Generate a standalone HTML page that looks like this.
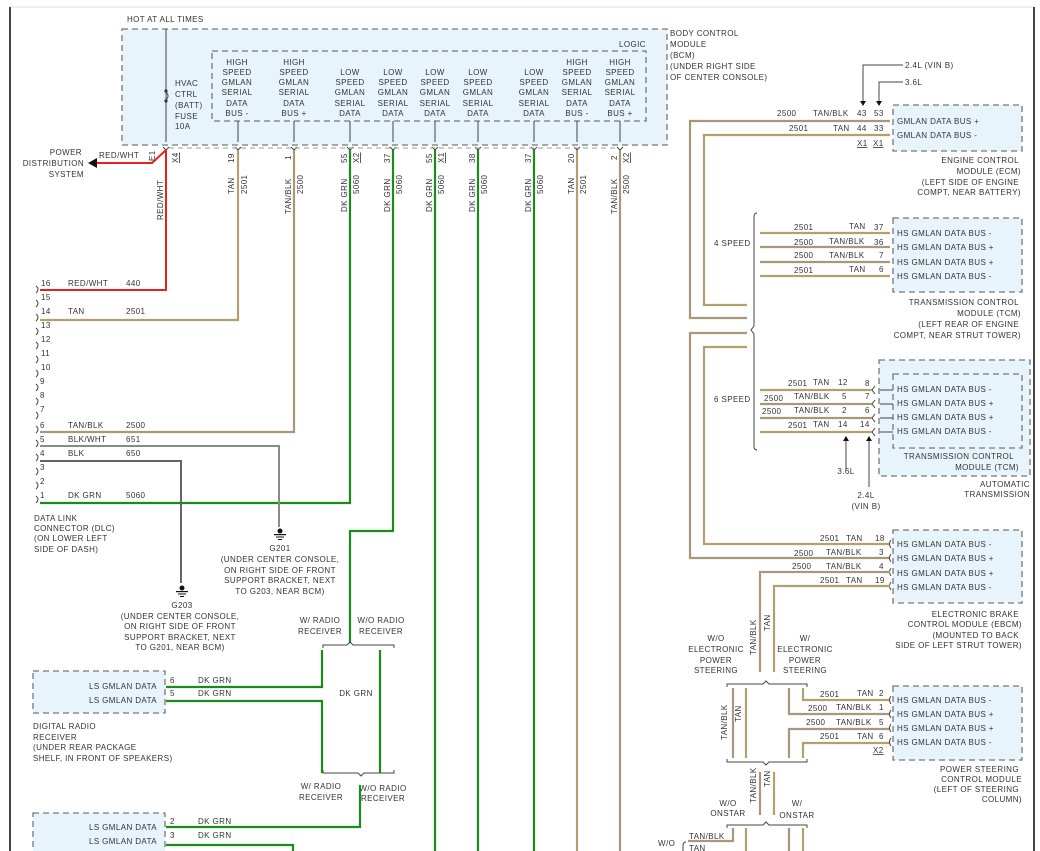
<!DOCTYPE html>
<html><head><meta charset="utf-8"><style>
html,body{margin:0;padding:0;background:#fff;width:1040px;height:851px;overflow:hidden}
svg{display:block}
text{font-family:"Liberation Sans",sans-serif;font-size:8px;fill:#333;letter-spacing:0.4px}
.t{stroke:#b3a06e;stroke-width:2.2;fill:none}
.tb{stroke:#a8987a;stroke-width:2.2;fill:none}
.g{stroke:#1a8c1a;stroke-width:2.2;fill:none}
.r{stroke:#e82020;stroke-width:2;fill:none}
.gy{stroke:#8a8a8a;stroke-width:2;fill:none}
.dg{stroke:#666;stroke-width:2;fill:none}
.bx{fill:#e8f4fb;stroke:#777;stroke-width:1.3;stroke-dasharray:6,4}
.ib{fill:none;stroke:#777;stroke-width:1.3;stroke-dasharray:6,4}
.k{stroke:#444;stroke-width:1;fill:none}
.m{text-anchor:middle}
.e{text-anchor:end}
</style></head><body>
<svg width="1040" height="851" viewBox="0 0 1040 851" xmlns="http://www.w3.org/2000/svg">
<rect width="1040" height="851" fill="#fff"/>
<line x1="10" y1="7" x2="1034" y2="7" stroke="#ddd" stroke-width="1"/>
<line x1="10" y1="7" x2="10" y2="851" stroke="#444" stroke-width="2"/>
<line x1="1034" y1="7" x2="1034" y2="851" stroke="#444" stroke-width="2"/>

<!-- BCM -->
<text x="127" y="22">HOT AT ALL TIMES</text>
<rect class="bx" x="122" y="29" width="545" height="116"/>
<rect class="ib" x="212" y="51" width="434" height="70"/>
<text x="619" y="47">LOGIC</text>
<g>
<text x="670" y="36">BODY CONTROL</text><text x="670" y="47">MODULE</text><text x="670" y="58">(BCM)</text><text x="670" y="69">(UNDER RIGHT SIDE</text><text x="670" y="80">OF CENTER CONSOLE)</text>
</g>
<line class="k" x1="166" y1="29" x2="166" y2="142"/>
<path d="M166 92 q4 4 0 8" class="k"/><circle cx="166" cy="91" r="1.6" fill="#333"/><circle cx="166" cy="101" r="1.6" fill="#333"/>
<text x="175" y="86">HVAC</text><text x="175" y="97">CTRL</text><text x="175" y="108">(BATT)</text><text x="175" y="119">FUSE</text><text x="175" y="129">10A</text>
<g class="m">
<text x="237" y="65">HIGH</text><text x="237" y="75">SPEED</text><text x="237" y="85">GMLAN</text><text x="237" y="95">SERIAL</text><text x="237" y="106">DATA</text><text x="237" y="116">BUS -</text>
<text x="294" y="65">HIGH</text><text x="294" y="75">SPEED</text><text x="294" y="85">GMLAN</text><text x="294" y="95">SERIAL</text><text x="294" y="106">DATA</text><text x="294" y="116">BUS +</text>
<text x="350" y="75">LOW</text><text x="350" y="85">SPEED</text><text x="350" y="95">GMLAN</text><text x="350" y="106">SERIAL</text><text x="350" y="116">DATA</text>
<text x="393" y="75">LOW</text><text x="393" y="85">SPEED</text><text x="393" y="95">GMLAN</text><text x="393" y="106">SERIAL</text><text x="393" y="116">DATA</text>
<text x="435" y="75">LOW</text><text x="435" y="85">SPEED</text><text x="435" y="95">GMLAN</text><text x="435" y="106">SERIAL</text><text x="435" y="116">DATA</text>
<text x="478" y="75">LOW</text><text x="478" y="85">SPEED</text><text x="478" y="95">GMLAN</text><text x="478" y="106">SERIAL</text><text x="478" y="116">DATA</text>
<text x="534" y="75">LOW</text><text x="534" y="85">SPEED</text><text x="534" y="95">GMLAN</text><text x="534" y="106">SERIAL</text><text x="534" y="116">DATA</text>
<text x="577" y="65">HIGH</text><text x="577" y="75">SPEED</text><text x="577" y="85">GMLAN</text><text x="577" y="95">SERIAL</text><text x="577" y="106">DATA</text><text x="577" y="116">BUS -</text>
<text x="620" y="65">HIGH</text><text x="620" y="75">SPEED</text><text x="620" y="85">GMLAN</text><text x="620" y="95">SERIAL</text><text x="620" y="106">DATA</text><text x="620" y="116">BUS +</text>
</g>
<g class="k">
<path d="M238 121V142M294 121V142M350 121V142M393 121V142M435 121V142M478 121V142M534 121V142M577 121V142M620 121V142"/>
<path d="M163 147l3 3 3-3M235 147l3 3 3-3M291 147l3 3 3-3M347 147l3 3 3-3M390 147l3 3 3-3M432 147l3 3 3-3M475 147l3 3 3-3M531 147l3 3 3-3M574 147l3 3 3-3M617 147l3 3 3-3"/>
</g>
<line x1="169" y1="148" x2="617" y2="148" stroke="#999" stroke-dasharray="5,4"/>
<g>
<text transform="translate(234,163) rotate(-90)">19</text><text transform="translate(234,194) rotate(-90)">TAN</text><text transform="translate(247,194) rotate(-90)">2501</text>
<text transform="translate(291,160) rotate(-90)">1</text><text transform="translate(291,214) rotate(-90)">TAN/BLK</text><text transform="translate(303,194) rotate(-90)">2500</text>
<text transform="translate(347,163) rotate(-90)">55</text><text transform="translate(359,163) rotate(-90)" text-decoration="underline">X2</text><text transform="translate(347,212) rotate(-90)">DK GRN</text><text transform="translate(359,194) rotate(-90)">5060</text>
<text transform="translate(390,163) rotate(-90)">37</text><text transform="translate(390,212) rotate(-90)">DK GRN</text><text transform="translate(402,194) rotate(-90)">5060</text>
<text transform="translate(432,163) rotate(-90)">55</text><text transform="translate(444,163) rotate(-90)" text-decoration="underline">X1</text><text transform="translate(432,212) rotate(-90)">DK GRN</text><text transform="translate(444,194) rotate(-90)">5060</text>
<text transform="translate(475,163) rotate(-90)">38</text><text transform="translate(475,212) rotate(-90)">DK GRN</text><text transform="translate(487,194) rotate(-90)">5060</text>
<text transform="translate(531,163) rotate(-90)">37</text><text transform="translate(531,212) rotate(-90)">DK GRN</text><text transform="translate(543,194) rotate(-90)">5060</text>
<text transform="translate(574,163) rotate(-90)">20</text><text transform="translate(574,194) rotate(-90)">TAN</text><text transform="translate(586,194) rotate(-90)">2501</text>
<text transform="translate(617,160) rotate(-90)">2</text><text transform="translate(629,163) rotate(-90)" text-decoration="underline">X2</text><text transform="translate(617,214) rotate(-90)">TAN/BLK</text><text transform="translate(629,194) rotate(-90)">2500</text>
<text transform="translate(155,161) rotate(-90)">E1</text><text transform="translate(178,163) rotate(-90)" text-decoration="underline">X4</text>
<text transform="translate(163,220) rotate(-90)">RED/WHT</text>
</g>
<path class="r" d="M166 150V290H40M166 150L152 163H96"/>
<path d="M88 163l9-5v10z" fill="#111"/>
<text x="99" y="158">RED/WHT</text>
<g class="e"><text x="82" y="155">POWER</text><text x="84" y="166">DISTRIBUTION</text><text x="84" y="177">SYSTEM</text></g>

<path class="t" d="M238 150V320H40"/>
<path class="tb" d="M294 150V432H40"/>
<path class="g" d="M350 150V503H40"/>
<path class="g" d="M393 150V531H350V643"/>
<path class="g" d="M435 150V851M478 150V851M534 150V851"/>
<path class="t" d="M577 150V851"/>
<path class="tb" d="M620 150V851"/>
<path class="gy" d="M40 446H279V527"/>
<path class="dg" d="M40 461H181V583"/>

<g>
<text x="41" y="286">16</text><text x="68" y="286">RED/WHT</text><text x="126" y="286">440</text>
<text x="41" y="300">15</text>
<text x="41" y="314">14</text><text x="68" y="314">TAN</text><text x="126" y="314">2501</text>
<text x="41" y="328">13</text><text x="41" y="342">12</text><text x="41" y="356">11</text><text x="41" y="370">10</text>
<text x="40" y="384">9</text><text x="40" y="398">8</text><text x="40" y="412">7</text>
<text x="40" y="428">6</text><text x="68" y="428">TAN/BLK</text><text x="126" y="428">2500</text>
<text x="40" y="442">5</text><text x="68" y="442">BLK/WHT</text><text x="126" y="442">651</text>
<text x="40" y="456">4</text><text x="68" y="456">BLK</text><text x="126" y="456">650</text>
<text x="40" y="470">3</text><text x="40" y="484">2</text>
<text x="40" y="498">1</text><text x="68" y="498">DK GRN</text><text x="126" y="498">5060</text>
</g>
<path class="k" d="M36 286q4 3 0 7M36 300q4 3 0 7M36 314q4 3 0 7M36 328q4 3 0 7M36 342q4 3 0 7M36 356q4 3 0 7M36 370q4 3 0 7M36 384q4 3 0 7M36 398q4 3 0 7M36 412q4 3 0 7M36 426q4 3 0 7M36 440q4 3 0 7M36 454q4 3 0 7M36 468q4 3 0 7M36 482q4 3 0 7M36 496q4 3 0 7"/>
<text x="34" y="521">DATA LINK</text><text x="34" y="531">CONNECTOR (DLC)</text><text x="34" y="541">(ON LOWER LEFT</text><text x="34" y="552">SIDE OF DASH)</text>
<g fill="#111"><circle cx="280" cy="531" r="2.5"/><rect x="274" y="534" width="12" height="1.2"/><rect x="276" y="536.5" width="8" height="1"/><rect x="278" y="539" width="4" height="1"/></g>
<g fill="#111"><circle cx="182" cy="588" r="2.5"/><rect x="176" y="591" width="12" height="1.2"/><rect x="178" y="593.5" width="8" height="1"/><rect x="180" y="596" width="4" height="1"/></g>
<g class="m">
<text x="280" y="551">G201</text><text x="280" y="562">(UNDER CENTER CONSOLE,</text><text x="280" y="573">ON RIGHT SIDE OF FRONT</text><text x="280" y="583">SUPPORT BRACKET, NEXT</text><text x="280" y="594">TO G203, NEAR BCM)</text>
<text x="182" y="608">G203</text><text x="180" y="619">(UNDER CENTER CONSOLE,</text><text x="180" y="629">ON RIGHT SIDE OF FRONT</text><text x="180" y="640">SUPPORT BRACKET, NEXT</text><text x="180" y="650">TO G201, NEAR BCM)</text>
</g>
<g class="m"><text x="320" y="623">W/ RADIO</text><text x="320" y="634">RECEIVER</text><text x="381" y="623">W/O RADIO</text><text x="381" y="634">RECEIVER</text>
<text x="321" y="789">W/ RADIO</text><text x="321" y="800">RECEIVER</text><text x="383" y="791">W/O RADIO</text><text x="383" y="801">RECEIVER</text>
<text x="356" y="696">DK GRN</text></g>
<path class="k" d="M323 648v-3h24l3-3 3 3h41v3M323 770v3h35l3 3 3-3h30v-3"/>
<path class="g" d="M322 650V687H166M380 650V773M166 701H322V773M360 785V827H166M166 845H293V851"/>
<rect class="bx" x="33" y="671" width="132" height="42"/>
<text class="e" x="157" y="689">LS GMLAN DATA</text><text class="e" x="157" y="703">LS GMLAN DATA</text>
<text x="170" y="683">6</text><text x="198" y="683">DK GRN</text><text x="170" y="696">5</text><text x="198" y="696">DK GRN</text>
<text x="33" y="729">DIGITAL RADIO</text><text x="33" y="740">RECEIVER</text><text x="33" y="750">(UNDER REAR PACKAGE</text><text x="33" y="761">SHELF, IN FRONT OF SPEAKERS)</text>
<rect class="bx" x="33" y="813" width="132" height="45"/>
<text class="e" x="157" y="830">LS GMLAN DATA</text><text class="e" x="157" y="844">LS GMLAN DATA</text>
<text x="170" y="824">2</text><text x="198" y="824">DK GRN</text><text x="170" y="838">3</text><text x="198" y="838">DK GRN</text>

<text x="905" y="68">2.4L (VIN B)</text><text x="905" y="85">3.6L</text>
<path class="k" d="M903 65H863V103M903 82H879V103"/>
<path d="M860 101h6l-3 5zM876 101h6l-3 5z" fill="#111"/>
<rect class="bx" x="893" y="105" width="129" height="46"/>
<text x="897" y="124">GMLAN DATA BUS +</text><text x="897" y="138">GMLAN DATA BUS -</text>
<text x="777" y="116">2500</text><text x="813" y="116">TAN/BLK</text><text x="857" y="116">43</text><text x="874" y="116">53</text>
<text x="789" y="131">2501</text><text x="833" y="131">TAN</text><text x="857" y="131">44</text><text x="874" y="131">33</text>
<text x="857" y="146" text-decoration="underline">X1</text><text x="873" y="146" text-decoration="underline">X1</text>
<g class="e"><text x="1019" y="163">ENGINE CONTROL</text><text x="1021" y="174">MODULE (ECM)</text><text x="1019" y="185">(LEFT SIDE OF ENGINE</text><text x="1021" y="195">COMPT, NEAR BATTERY)</text></g>
<path class="tb" d="M890 121H690V318H747M747 333H690V558H890"/>
<path class="t" d="M890 135H704V305H747M747 347H704V544H890"/>
<path class="k" d="M757 213q-3 0-3 4V326l-3 4 3 4V446q0 4 3 4"/>
<text x="714" y="246">4 SPEED</text><text x="714" y="402">6 SPEED</text>
<rect class="bx" x="893" y="218" width="129" height="74"/>
<text x="897" y="236">HS GMLAN DATA BUS -</text><text x="897" y="250">HS GMLAN DATA BUS +</text><text x="897" y="265">HS GMLAN DATA BUS +</text><text x="897" y="279">HS GMLAN DATA BUS -</text>
<path class="t" d="M760 233H890M760 276H890"/><path class="tb" d="M760 247H890M760 262H890"/>
<text x="794" y="230">2501</text><text x="849" y="229">TAN</text><text x="874" y="230">37</text>
<text x="794" y="245">2500</text><text x="829" y="244">TAN/BLK</text><text x="874" y="245">36</text>
<text x="794" y="258">2500</text><text x="829" y="258">TAN/BLK</text><text x="879" y="258">7</text>
<text x="794" y="273">2501</text><text x="849" y="272">TAN</text><text x="879" y="272">6</text>
<g class="e"><text x="1019" y="305">TRANSMISSION CONTROL</text><text x="1021" y="316">MODULE (TCM)</text><text x="1019" y="327">(LEFT REAR OF ENGINE</text><text x="1021" y="338">COMPT, NEAR STRUT TOWER)</text></g>
<rect class="bx" x="879" y="360" width="151" height="116"/>
<rect class="ib" x="893" y="374" width="129" height="74"/>
<text x="897" y="392">HS GMLAN DATA BUS -</text><text x="897" y="406">HS GMLAN DATA BUS +</text><text x="897" y="420">HS GMLAN DATA BUS +</text><text x="897" y="434">HS GMLAN DATA BUS -</text>
<path class="k" d="M880 390h13M880 404h13M880 418h13M880 432h13M875 386l-3 4 3 4M875 400l-3 4 3 4M875 414l-3 4 3 4M875 428l-3 4 3 4"/>
<path class="t" d="M760 390H872M760 432H872"/><path class="tb" d="M760 404H872M760 418H872"/>
<text x="788" y="386">2501</text><text x="813" y="385">TAN</text><text x="838" y="385">12</text><text x="865" y="386">8</text>
<text x="764" y="401">2500</text><text x="794" y="399">TAN/BLK</text><text x="842" y="399">5</text><text x="865" y="399">7</text>
<text x="762" y="414">2500</text><text x="794" y="413">TAN/BLK</text><text x="842" y="413">2</text><text x="865" y="413">6</text>
<text x="788" y="428">2501</text><text x="813" y="427">TAN</text><text x="838" y="427">14</text><text x="860" y="427">14</text>
<path class="k" d="M846 470V440M869 487V440"/><path d="M843 441h6l-3-5zM866 441h6l-3-5z" fill="#111"/>
<text class="m" x="846" y="474">3.6L</text><text class="m" x="866" y="498">2.4L</text><text class="m" x="866" y="509">(VIN B)</text>
<g class="e"><text x="1014" y="459">TRANSMISSION CONTROL</text><text x="1019" y="470">MODULE (TCM)</text><text x="1030" y="487">AUTOMATIC</text><text x="1030" y="497">TRANSMISSION</text></g>
<rect class="bx" x="893" y="530" width="129" height="73"/>
<text x="897" y="547">HS GMLAN DATA BUS -</text><text x="897" y="561">HS GMLAN DATA BUS +</text><text x="897" y="576">HS GMLAN DATA BUS +</text><text x="897" y="590">HS GMLAN DATA BUS -</text>
<path class="k" d="M891 540q-3 4 0 8M891 554q-3 4 0 8M891 568q-3 4 0 8M891 582q-3 4 0 8"/>
<path class="tb" d="M890 572H760V672"/><path class="t" d="M890 586H774V672"/>
<text x="820" y="541">2501</text><text x="846" y="541">TAN</text><text x="875" y="541">18</text>
<text x="794" y="556">2500</text><text x="826" y="555">TAN/BLK</text><text x="879" y="555">3</text>
<text x="792" y="569">2500</text><text x="826" y="569">TAN/BLK</text><text x="879" y="569">4</text>
<text x="820" y="583">2501</text><text x="846" y="583">TAN</text><text x="875" y="583">19</text>
<g class="e"><text x="1019" y="617">ELECTRONIC BRAKE</text><text x="1022" y="627">CONTROL MODULE (EBCM)</text><text x="1019" y="638">(MOUNTED TO BACK</text><text x="1022" y="648">SIDE OF LEFT STRUT TOWER)</text></g>
<text transform="translate(756,655) rotate(-90)">TAN/BLK</text><text transform="translate(770,631) rotate(-90)">TAN</text>
<g class="m"><text x="716" y="641">W/O</text><text x="716" y="652">ELECTRONIC</text><text x="716" y="663">POWER</text><text x="716" y="673">STEERING</text>
<text x="805" y="641">W/</text><text x="805" y="652">ELECTRONIC</text><text x="805" y="663">POWER</text><text x="805" y="673">STEERING</text></g>
<path class="k" d="M727 687v-3h36l3-3 3 3h38v3M727 759v3h36l3 3 3-3h38v-3"/>
<path class="tb" d="M733 688V758M789 688V714H890M890 729H789V758"/>
<path class="t" d="M746 688V758M803 688V700H890M890 743H803V758"/>
<text transform="translate(727,740) rotate(-90)">TAN/BLK</text><text transform="translate(741,722) rotate(-90)">TAN</text>
<rect class="bx" x="893" y="686" width="129" height="74"/>
<text x="897" y="703">HS GMLAN DATA BUS -</text><text x="897" y="717">HS GMLAN DATA BUS +</text><text x="897" y="731">HS GMLAN DATA BUS +</text><text x="897" y="745">HS GMLAN DATA BUS -</text>
<path class="k" d="M891 696q-3 4 0 8M891 710q-3 4 0 8M891 724q-3 4 0 8M891 738q-3 4 0 8"/>
<text x="820" y="697">2501</text><text x="857" y="696">TAN</text><text x="879" y="696">2</text>
<text x="808" y="711">2500</text><text x="836" y="710">TAN/BLK</text><text x="879" y="710">1</text>
<text x="806" y="725">2500</text><text x="836" y="725">TAN/BLK</text><text x="879" y="725">5</text>
<text x="820" y="739">2501</text><text x="857" y="739">TAN</text><text x="879" y="739">6</text>
<text x="873" y="753" text-decoration="underline">X2</text>
<g class="e"><text x="1019" y="772">POWER STEERING</text><text x="1022" y="782">CONTROL MODULE</text><text x="1019" y="792">(LEFT OF STEERING</text><text x="1022" y="802">COLUMN)</text></g>
<path class="tb" d="M760 772V815"/><path class="t" d="M774 772V815"/>
<text transform="translate(756,803) rotate(-90)">TAN/BLK</text><text transform="translate(770,787) rotate(-90)">TAN</text>
<g class="m"><text x="728" y="806">W/O</text><text x="728" y="816">ONSTAR</text><text x="797" y="806">W/</text><text x="797" y="818">ONSTAR</text></g>
<path class="k" d="M727 828v-3h36l3-3 3 3h38v3M686 842q-3 0-3 4v5"/>
<path class="tb" d="M733 828V841H688M789 828V851"/><path class="t" d="M746 828V851M803 828V851"/>
<text x="689" y="839">TAN/BLK</text><text x="689" y="851">TAN</text><text x="658" y="846">W/O</text>
</svg>
</body></html>
